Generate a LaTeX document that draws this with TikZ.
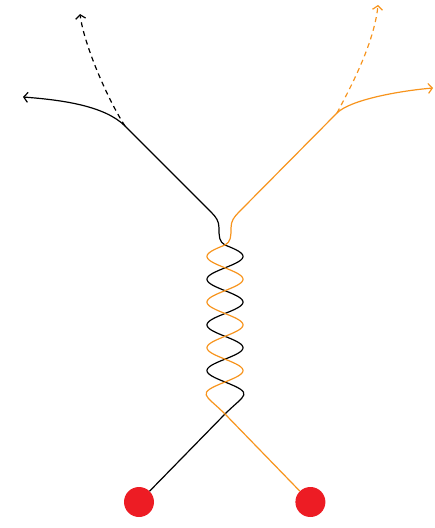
\documentclass[tikz,border=0pt]{standalone}
\usepackage{tikz}
\usetikzlibrary{positioning,arrows.meta}

\definecolor{strandorange}{HTML}{F7941D}
\definecolor{dotred}{HTML}{ED1C24}

\begin{document}
\begin{tikzpicture}[x=1pt,y=-1pt,
    dot/.style={circle,fill=dotred,minimum size=30pt,inner sep=0pt},
    strand/.style={line width=1.2pt,line join=round},
    newstrand/.style={strand,dash pattern=on 5pt off 4pt},
    tip/.style={-{Straight Barb[length=4pt,width=10pt]}}]
  \useasboundingbox (0,0) rectangle (435,528);

  % roots
  \node[dot] (dotBlack) at (139,502) {};
  \node[dot,right=141pt of dotBlack] (dotOrange) {};

  % crossings, forks and ends
  \coordinate (crossBot) at (225,414);
  \coordinate (forkBlack) at (125,126);
  \coordinate (forkOrange) at (337,113);
  \coordinate (endBlack) at (23,97);
  \coordinate (endBlackNew) at (80,14);
  \coordinate (endOrange) at (433,88);
  \coordinate (endOrangeNew) at (378,5);

  % black strand
  \draw[strand,tip] (dotBlack) -- (crossBot)
    .. controls (245,394) and (255,394) .. (225,382)
    -- plot[domain=6:0,samples=120] ({225+18*sin(\x*180)},{245+22.83*\x})
    .. controls (219,242) and (219,236) .. (219,228)
    .. controls (219,221) and (216,217) .. (211,212)
    -- (forkBlack) .. controls (105,106) and (63,100) .. (endBlack);
  \draw[newstrand,tip] (forkBlack) .. controls (108,100) and (84,45) .. (endBlackNew);

  % orange strand
  \draw[strand,strandorange,tip] (dotOrange) -- (crossBot)
    .. controls (205,394) and (195,394) .. (225,382)
    -- plot[domain=6:0,samples=120] ({225-18*sin(\x*180)},{245+22.83*\x})
    .. controls (231,242) and (231,236) .. (231,228)
    .. controls (231,221) and (234,217) .. (239,212)
    -- (forkOrange) .. controls (350,100) and (398,91) .. (endOrange);
  \draw[newstrand,strandorange,tip] (forkOrange) .. controls (348,92) and (374,45) .. (endOrangeNew);
\end{tikzpicture}
\end{document}
